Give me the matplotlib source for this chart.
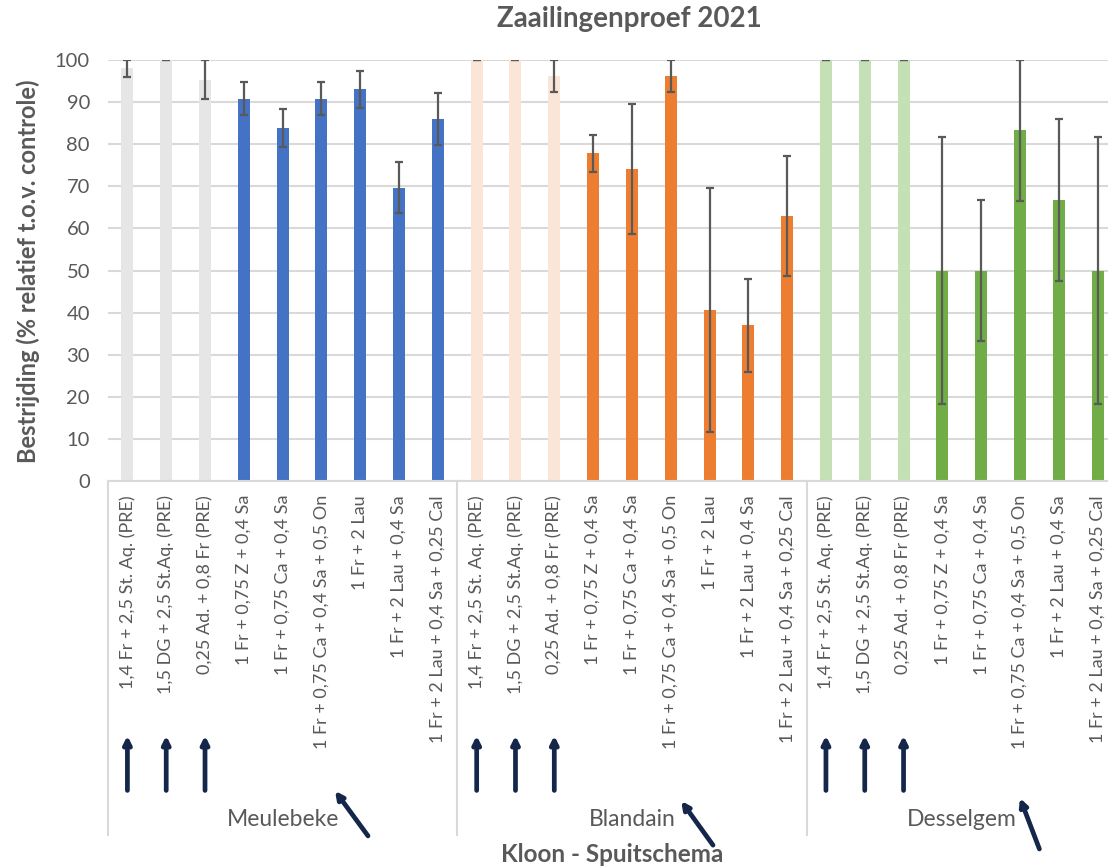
import matplotlib.pyplot as plt
import numpy as np

plt.rcParams['font.family'] = ['Lato', 'DejaVu Sans']

# --- data -------------------------------------------------------------
groups = ['Meulebeke', 'Blandain', 'Desselgem']

meulebeke_labels = ['1,4 Fr + 2,5 St. Aq. (PRE)', '1,5 DG + 2,5 St.Aq. (PRE)',
                    '0,25 Ad. + 0,8 Fr (PRE)', '1 Fr + 0,75 Z + 0,4 Sa',
                    '1 Fr + 0,75 Ca + 0,4 Sa', '1 Fr + 0,75 Ca + 0,4 Sa + 0,5 On',
                    '1 Fr + 2 Lau', '1 Fr + 2 Lau + 0,4 Sa',
                    '1 Fr + 2 Lau + 0,4 Sa + 0,25 Cal']
blandain_labels = ['1,4 Fr + 2,5 St. Aq. (PRE)', '1,5 DG + 2,5 St.Aq. (PRE)',
                   '0,25 Ad. + 0,8 Fr (PRE)', '1 Fr + 0,75 Z + 0,4 Sa',
                   '1 Fr + 0,75 Ca + 0,4 Sa', '1 Fr + 0,75 Ca + 0,4 Sa + 0,5 On',
                   '1 Fr + 2 Lau', '1 Fr + 2 Lau + 0,4 Sa',
                   '1 Fr + 2 Lau + 0,4 Sa + 0,25 Cal']
desselgem_labels = ['1,4 Fr + 2,5 St. Aq. (PRE)', '1,5 DG + 2,5 St.Aq. (PRE)',
                    '0,25 Ad. + 0,8 Fr (PRE)', '1 Fr + 0,75 Z + 0,4 Sa',
                    '1 Fr + 0,75 Ca + 0,4 Sa', '1 Fr + 0,75 Ca + 0,4 Sa + 0,5 On',
                    '1 Fr + 2 Lau + 0,4 Sa', '1 Fr + 2 Lau + 0,4 Sa + 0,25 Cal']

meulebeke_vals = [98, 100, 95.3, 90.8, 83.8, 90.8, 93.0, 69.7, 86.0]
meulebeke_err = [2, 0, 4.6, 3.9, 4.5, 3.9, 4.5, 6.0, 6.2]
blandain_vals = [100, 100, 96.2, 77.8, 74.1, 96.2, 40.7, 37.0, 63.0]
blandain_err = [0, 0, 3.8, 4.3, 15.4, 3.8, 29.0, 11.0, 14.2]
desselgem_vals = [100, 100, 100, 50, 50, 83.3, 66.7, 50]
desselgem_err = [0, 0, 0, 31.8, 16.7, 16.7, 19.2, 31.8]

n_pre = 3
light_colors = ['#E7E6E6', '#FBE5D6', '#C5E0B4']
dark_colors = ['#4472C4', '#ED7D31', '#70AD47']

labels_all = [meulebeke_labels, blandain_labels, desselgem_labels]
vals_all = [meulebeke_vals, blandain_vals, desselgem_vals]
errs_all = [meulebeke_err, blandain_err, desselgem_err]

txt = '#595959'
gridc = '#D9D9D9'
arrowc = '#14264A'

# --- figure -----------------------------------------------------------
W, H = 1108, 866
fig = plt.figure(figsize=(W / 100, H / 100), dpi=100)
ax = fig.add_axes([108 / W, 385 / H, 1009 / W, 421 / H])

start = 0
ticks, ticklabels, bounds, on_idx, pre_idx = [], [], [start - 0.5], [], []
for g in range(len(groups)):
    n = len(vals_all[g])
    x = np.arange(start, start + n)
    cols = [light_colors[g]] * n_pre + [dark_colors[g]] * (n - n_pre)
    ax.bar(x, vals_all[g], width=0.31, color=cols, zorder=2)
    ax.errorbar(x, vals_all[g], yerr=errs_all[g], fmt='none', ecolor='#595959',
                elinewidth=1.6, capsize=3, capthick=1.6, zorder=3)
    ticks += list(x)
    ticklabels += labels_all[g]
    pre_idx += list(x[:n_pre])
    on_idx.append(start + 5)
    start += n
    bounds.append(start - 0.5)

ax.set_xlim(-0.5, start - 0.5)
ax.set_ylim(0, 100)
ax.set_yticks(range(0, 101, 10))
ax.yaxis.grid(True, color=gridc, lw=1.5, zorder=0)
ax.set_axisbelow(True)
for s in ['top', 'right', 'left']:
    ax.spines[s].set_visible(False)
ax.spines['bottom'].set_color(gridc)
ax.spines['bottom'].set_linewidth(1.5)
ax.tick_params(axis='y', length=0, pad=13, labelsize=14.5, labelcolor=txt)
ax.set_xticks(ticks)
ax.set_xticklabels(ticklabels, rotation=90, va='top', ha='center')
ax.tick_params(axis='x', length=0, pad=10, labelsize=13, labelcolor=txt)

tr = ax.get_xaxis_transform()
for b in bounds:
    ax.plot([b, b], [0, -0.84], transform=tr, color=gridc, lw=1.5, clip_on=False)

# group names
for g, name in enumerate(groups):
    c = (bounds[g] + bounds[g + 1]) / 2
    ax.text(c, -0.805, name, transform=tr, ha='center', va='center',
            fontsize=16.5, color=txt)

# arrows under PRE labels
for p in pre_idx:
    ax.annotate('', xy=(p, -0.605), xytext=(p, -0.735), xycoords=tr, textcoords=tr,
                arrowprops=dict(arrowstyle='-|>', color=arrowc, lw=3.4,
                                mutation_scale=11, shrinkA=0, shrinkB=0))

# diagonal arrows pointing at the "+ 0,5 On" schedules
diag = [(0.35, -0.736, 1.2, -0.843), (0.27, -0.760, 1.09, -0.865),
        (0.0, -0.753, 0.5, -0.874)]
for i, (dx0, y0, dx1, y1) in zip(on_idx, diag):
    ax.annotate('', xy=(i + dx0, y0), xytext=(i + dx1, y1), xycoords=tr,
                textcoords=tr,
                arrowprops=dict(arrowstyle='-|>', color=arrowc, lw=3.4,
                                mutation_scale=11, shrinkA=0, shrinkB=0))

ax.text(0.5, -0.888, 'Kloon - Spuitschema', transform=ax.transAxes, ha='center',
        va='center', fontsize=17.5, fontweight='bold', color=txt)
fig.text(28 / W, 1 - 271 / H, 'Bestrijding (% relatief t.o.v. controle)',
         rotation=90, ha='center', va='center', fontsize=17,
         fontweight='bold', color=txt)
fig.text(629 / W, 1 - 19 / H, 'Zaailingenproef 2021', ha='center', va='center',
         fontsize=20, fontweight='bold', color=txt)

fig.savefig('out.png', dpi=100)
